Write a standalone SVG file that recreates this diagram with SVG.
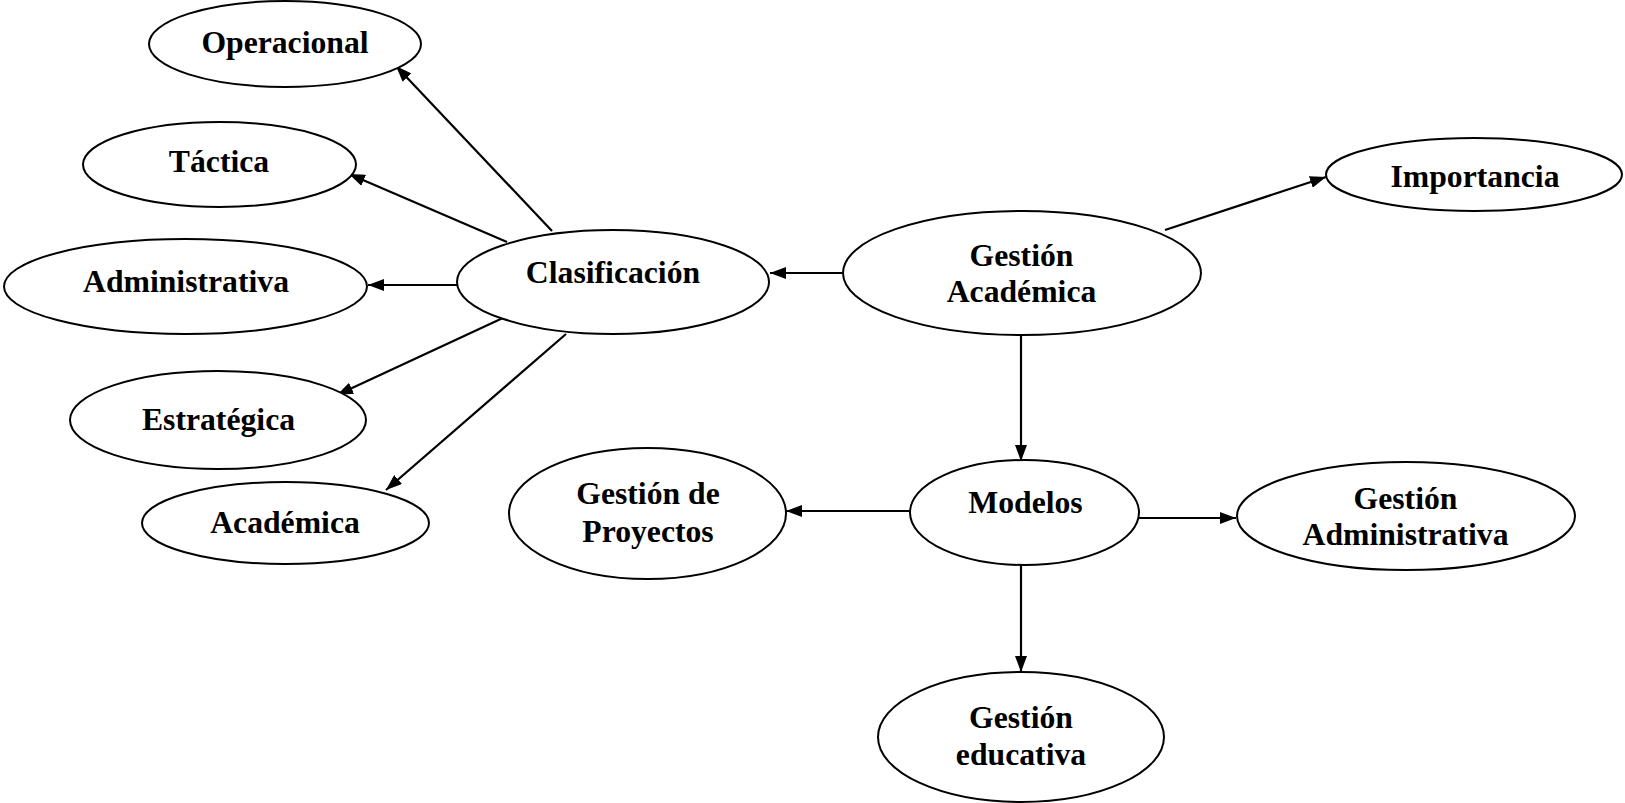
<svg xmlns="http://www.w3.org/2000/svg" width="1625" height="803" viewBox="0 0 1625 803">
<defs>
<style>
.n ellipse{fill:#fff;stroke:#000;stroke-width:2}
.n text{font-family:"Liberation Serif","Times New Roman",serif;font-weight:bold;font-size:31.7px;text-anchor:middle;fill:#000}
.c line{stroke:#000;stroke-width:2.2;marker-end:url(#ah)}
</style>
<marker id="ah" markerUnits="userSpaceOnUse" viewBox="0 0 16 12" refX="16" refY="6" markerWidth="16" markerHeight="12" orient="auto">
<path d="M0,0 L16,6 L0,12 z" fill="#000"/>
</marker>
</defs>
<rect width="1625" height="803" fill="#fff"/>
<g class="c" id="connectors">
<line x1="552" y1="231" x2="396" y2="66"/>
<line x1="507" y1="242" x2="349" y2="174"/>
<line x1="457" y1="285" x2="368" y2="285"/>
<line x1="505" y1="317" x2="337" y2="395"/>
<line x1="566" y1="334" x2="386" y2="490"/>
<line x1="843" y1="273" x2="770" y2="273"/>
<line x1="1165" y1="230" x2="1326" y2="177"/>
<line x1="1021" y1="335" x2="1021" y2="461"/>
<line x1="910" y1="511" x2="786" y2="511"/>
<line x1="1139" y1="518" x2="1236" y2="518"/>
<line x1="1021" y1="565" x2="1021" y2="672"/>
</g>
<g class="n" id="operacional"><ellipse cx="285" cy="44" rx="136" ry="43"/><text x="285" y="53">Operacional</text></g>
<g class="n" id="tactica"><ellipse cx="219.5" cy="164.5" rx="136.5" ry="42.5"/><text x="219" y="172">Táctica</text></g>
<g class="n" id="administrativa"><ellipse cx="185.5" cy="286.5" rx="181.5" ry="47.5"/><text x="186" y="292">Administrativa</text></g>
<g class="n" id="estrategica"><ellipse cx="218" cy="420" rx="148" ry="49"/><text x="218.5" y="430">Estratégica</text></g>
<g class="n" id="academica"><ellipse cx="285.5" cy="523" rx="143.5" ry="41"/><text x="285" y="533">Académica</text></g>
<g class="n" id="clasificacion"><ellipse cx="613" cy="282" rx="156" ry="52"/><text x="613" y="283">Clasificación</text></g>
<g class="n" id="gestion-academica"><ellipse cx="1022" cy="273" rx="179" ry="62"/><text x="1021.5" y="266">Gestión</text><text x="1021.5" y="302">Académica</text></g>
<g class="n" id="importancia"><ellipse cx="1474" cy="174.5" rx="148" ry="36.5"/><text x="1475" y="187">Importancia</text></g>
<g class="n" id="modelos"><ellipse cx="1024.5" cy="512.5" rx="114.5" ry="52.5"/><text x="1025.5" y="513">Modelos</text></g>
<g class="n" id="gestion-proyectos"><ellipse cx="647.5" cy="513.5" rx="138.5" ry="65.5"/><text x="648" y="504">Gestión de</text><text x="648" y="542">Proyectos</text></g>
<g class="n" id="gestion-administrativa"><ellipse cx="1406" cy="516" rx="169" ry="54"/><text x="1405.5" y="509">Gestión</text><text x="1405.5" y="545">Administrativa</text></g>
<g class="n" id="gestion-educativa"><ellipse cx="1021" cy="737" rx="143" ry="65"/><text x="1021" y="728">Gestión</text><text x="1021" y="765">educativa</text></g>
</svg>
